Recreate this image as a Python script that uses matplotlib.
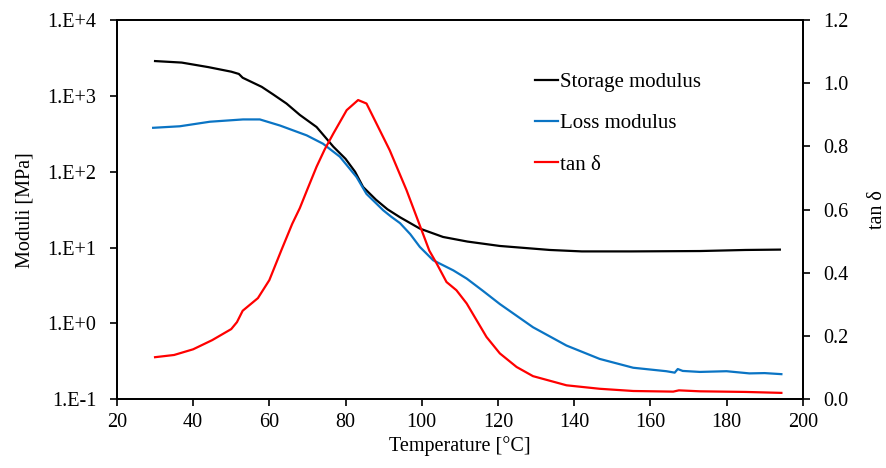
import numpy as np
import matplotlib
matplotlib.use('Agg')
import matplotlib.pyplot as plt
from matplotlib.ticker import FuncFormatter, FixedLocator

# Storage modulus [MPa] vs temperature
temp_storage = [30, 37, 44, 50, 52, 53, 58, 61, 64.5, 68, 72.4, 76.8, 80, 82.5, 84.6, 88,
                91, 94.3, 99.5, 105.6, 112, 120.5, 133.6, 142, 155, 173, 185, 194]
storage = [2884, 2754, 2399, 2089, 1950, 1738, 1318, 1047, 794, 562, 389, 214, 148, 100,
           63, 42.7, 32, 25.1, 17.8, 13.8, 12.0, 10.5, 9.3, 8.9, 8.9, 9.0, 9.3, 9.4]

# Loss modulus [MPa]
temp_loss = [29.5, 36.5, 44.4, 53.1, 57.5, 62.8, 69.8, 74.1, 78.5, 82.9, 85.5, 89.9,
             92, 94.3, 97, 99.5, 103, 108.3, 111.8, 116, 120.5, 129.2, 138, 146.7, 155.5,
             164.2, 166.4, 167.2, 168.5, 173, 180, 186, 190, 194.4]
loss = [380, 398, 457, 490, 490, 407, 302, 234, 158, 85, 51, 31,
        25.5, 21, 15, 10.2, 6.8, 5.0, 3.9, 2.7, 1.8, 0.89, 0.51, 0.34, 0.26,
        0.234, 0.224, 0.25, 0.236, 0.229, 0.234, 0.219, 0.221, 0.214]

# tan delta
temp_tan = [30, 35, 40, 45, 50, 51.5, 53, 57, 60, 63.2, 66, 68, 70, 72.4, 74.5, 76.8,
            80.3, 83.3, 85.5, 88.1, 91.6, 96, 99.5, 102, 103.9, 106.5, 109.1, 111.8,
            114.4, 117, 120.5, 124.9, 129.2, 138, 146.7, 155.5, 166, 167.5, 173, 185,
            194.4]
tan_delta = [0.133, 0.140, 0.158, 0.187, 0.222, 0.244, 0.28, 0.32, 0.377, 0.473, 0.555,
             0.605, 0.665, 0.736, 0.79, 0.841, 0.915, 0.947, 0.936, 0.873, 0.788, 0.662,
             0.55, 0.47, 0.43, 0.371, 0.345, 0.303, 0.25, 0.197, 0.145, 0.102, 0.073,
             0.044, 0.033, 0.026, 0.024, 0.028, 0.025, 0.023, 0.020]

x_ticks = [20, 40, 60, 80, 100, 120, 140, 160, 180, 200]
left_ticks = [1e-1, 1e0, 1e1, 1e2, 1e3, 1e4]
right_ticks = [0.0, 0.2, 0.4, 0.6, 0.8, 1.0, 1.2]

plt.rcParams['font.family'] = ['Liberation Serif', 'DejaVu Serif']
plt.rcParams['font.size'] = 14.5

fig, ax = plt.subplots(figsize=(8.86, 4.68), dpi=100)
fig.subplots_adjust(left=0.132, right=0.906, top=0.957, bottom=0.147)
ax2 = ax.twinx()

l1, = ax.plot(temp_storage, storage, color='black', lw=1.6, label='Storage modulus')
l2, = ax.plot(temp_loss, loss, color='#0A74C4', lw=1.6, label='Loss modulus')
l3, = ax2.plot(temp_tan, tan_delta, color='#FF0000', lw=1.6, label='tan δ')

ax.set_yscale('log')
ax.set_xlim(20, 200)
ax.set_ylim(1e-1, 1e4)
ax2.set_ylim(0, 1.2)
ax.xaxis.set_major_locator(FixedLocator(x_ticks))
ax.yaxis.set_major_locator(FixedLocator(left_ticks))
ax.yaxis.set_minor_locator(FixedLocator([]))
ax2.yaxis.set_major_locator(FixedLocator(right_ticks))

def sci_fmt(v, pos):
    e = int(round(np.log10(v)))
    return f"1.E{'+' if e >= 0 else '-'}{abs(e)}"

ax.yaxis.set_major_formatter(FuncFormatter(sci_fmt))
ax2.yaxis.set_major_formatter(FuncFormatter(lambda v, p: f"{v:.1f}"))

for a in (ax, ax2):
    for s in a.spines.values():
        s.set_linewidth(1.3)
    a.tick_params(direction='out', length=5, width=1.2, labelsize=14.5)
ax.tick_params(axis='y', pad=10)
ax.tick_params(axis='x', pad=5)
ax2.tick_params(axis='y', pad=10)

ax.set_xlabel('Temperature [°C]', fontsize=14.5, labelpad=3)
ax.set_ylabel('Moduli [MPa]', fontsize=14.5, labelpad=9)
ax2.set_ylabel('tan δ', fontsize=14.5, labelpad=14)

ax2.legend(handles=[l1, l2, l3], loc='upper left', bbox_to_anchor=(0.595, 0.89),
           frameon=False, fontsize=15, handlelength=1.1, handletextpad=0.1,
           labelspacing=1.05, borderpad=0)

fig.savefig('out.png', dpi=100)
